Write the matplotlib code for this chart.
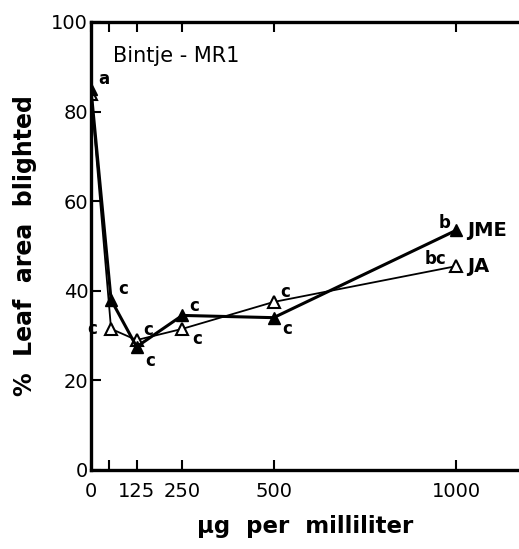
import matplotlib.pyplot as plt

plt.rcParams["font.family"] = ["DejaVu Sans"]

dose = [0, 55, 125, 250, 500, 1000]
jme = [85, 38, 27.5, 34.5, 34, 53.5]
ja = [84, 31.5, 29, 31.5, 37.5, 45.5]
jme_letters = ["a", "c", "c", "c", "c", "b"]
ja_letters = ["", "c", "c", "c", "c", "bc"]

xticks = [0, 50, 125, 250, 500, 1000]
xtick_labels = ["0", "", "125", "250", "500", "1000"]
yticks = [0, 20, 40, 60, 80, 100]

fig = plt.figure(figsize=(5.19, 5.49), dpi=100)
ax = fig.add_axes([0.1753, 0.1439, 0.8247, 0.8161])

ax.plot(dose, ja, color="black", lw=1.3, marker="^", ms=9, mfc="white", mec="black", mew=1.5, zorder=3)
ax.plot(dose, jme, color="black", lw=2.2, marker="^", ms=9, mfc="black", mec="black", zorder=4)

# significance letters
jme_off = [(5, 7), (5, 8), (6, -10), (5, 7), (6, -8), (-13, 5)]
ja_off = [(0, 0), (-17, 0), (5, 7), (7, -7), (5, 7), (-23, 5)]
for x, y, s, o in zip(dose, jme, jme_letters, jme_off):
    if s:
        ax.annotate(s, (x, y), xytext=o, textcoords="offset points",
                    fontsize=12, fontweight="bold", va="center")
for x, y, s, o in zip(dose, ja, ja_letters, ja_off):
    if s:
        ax.annotate(s, (x, y), xytext=o, textcoords="offset points",
                    fontsize=12, fontweight="bold", va="center")

ax.annotate("JME", (dose[-1], jme[-1]), xytext=(8, 0), textcoords="offset points",
            fontsize=14, fontweight="bold", va="center")
ax.annotate("JA", (dose[-1], ja[-1]), xytext=(8, 0), textcoords="offset points",
            fontsize=14, fontweight="bold", va="center")

ax.text(60, 92.5, "Bintje - MR1", fontsize=15, va="center")

ax.set_xlim(0, 1172)
ax.set_ylim(0, 100)
ax.set_xticks(xticks)
ax.set_xticklabels(xtick_labels, fontsize=14)
ax.set_yticks(yticks)
ax.set_yticklabels([str(t) for t in yticks], fontsize=14)
ax.tick_params(direction="in", length=7, width=1.5, top=True, right=False)
ax.tick_params(axis="x", pad=9)
ax.tick_params(axis="y", pad=2)

for side in ["left", "bottom", "top"]:
    ax.spines[side].set_linewidth(2.4)
ax.spines["right"].set_visible(False)

ax.set_xlabel("\u03bcg  per  milliliter", fontsize=16.5, fontweight="bold", labelpad=10)
ax.set_ylabel("%  Leaf  area  blighted", fontsize=17, fontweight="bold", labelpad=10)

fig.savefig("out.png", dpi=100)
